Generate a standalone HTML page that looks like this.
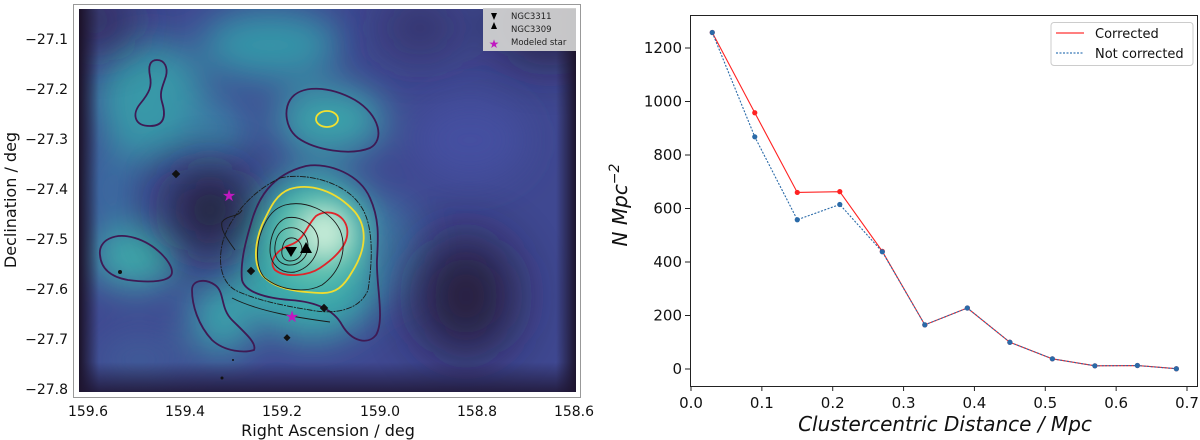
<!DOCTYPE html>
<html><head><meta charset="utf-8"><style>
body{margin:0;background:#fff;width:1200px;height:440px;overflow:hidden;font-family:"DejaVu Sans","Liberation Sans",sans-serif}
svg{position:absolute;left:0;top:0}
</style></head><body>
<svg width="1200" height="440" viewBox="0 0 1200 440">
<defs>
<filter id="b1" x="-50%" y="-50%" width="200%" height="200%"><feGaussianBlur stdDeviation="18"/></filter>
<filter id="b3" x="-80%" y="-80%" width="260%" height="260%"><feGaussianBlur stdDeviation="26"/></filter>
<filter id="b2" x="-50%" y="-50%" width="200%" height="200%"><feGaussianBlur stdDeviation="12"/></filter>
<clipPath id="clipL"><rect x="79" y="9" width="497" height="383"/></clipPath>
<linearGradient id="edgeL" x1="0" x2="1"><stop offset="0" stop-color="#1a1024" stop-opacity="0.95"/><stop offset="1" stop-color="#1a1024" stop-opacity="0"/></linearGradient>
<linearGradient id="edgeR" x1="1" x2="0"><stop offset="0" stop-color="#1a1024" stop-opacity="0.9"/><stop offset="1" stop-color="#1a1024" stop-opacity="0"/></linearGradient>
<linearGradient id="edgeB" x1="0" y1="1" x2="0" y2="0"><stop offset="0" stop-color="#1e1430" stop-opacity="0.8"/><stop offset="1" stop-color="#1e1430" stop-opacity="0"/></linearGradient>
</defs>
<g>
<rect x="73.5" y="4.5" width="507" height="393" fill="#fff" stroke="#999" stroke-width="1"/>
<g clip-path="url(#clipL)">
<rect x="79" y="9" width="497" height="383" fill="#3f4891"/>
<g filter="url(#b1)">
<ellipse cx="270" cy="45" rx="70" ry="35" fill="#3595a8"/>
<ellipse cx="150" cy="100" rx="55" ry="60" fill="#3898a8"/>
<ellipse cx="215" cy="130" rx="35" ry="30" fill="#3a7ea6"/>
<ellipse cx="330" cy="120" rx="55" ry="35" fill="#3aa3aa"/>
<ellipse cx="135" cy="258" rx="45" ry="30" fill="#3cabaa"/>
<ellipse cx="222" cy="318" rx="32" ry="38" fill="#3aa0aa"/>
<ellipse cx="312" cy="255" rx="75" ry="85" fill="#3aa8aa"/>
<ellipse cx="110" cy="190" rx="30" ry="45" fill="#3b6aa0"/>
<ellipse cx="470" cy="140" rx="55" ry="40" fill="#4550a0"/>
<ellipse cx="140" cy="360" rx="45" ry="30" fill="#3f5a98"/>
<ellipse cx="390" cy="250" rx="30" ry="50" fill="#3d70a0"/>
</g>
<g filter="url(#b3)" opacity="0.85">
<ellipse cx="210" cy="210" rx="40" ry="42" fill="#1e1428"/>
<ellipse cx="466" cy="296" rx="50" ry="60" fill="#22162e"/>
<ellipse cx="550" cy="25" rx="55" ry="35" fill="#22162e"/>
<ellipse cx="420" cy="28" rx="40" ry="22" fill="#2f2650"/>
<ellipse cx="95" cy="20" rx="40" ry="25" fill="#2a1d3c"/>
</g>
<rect x="79" y="9" width="20" height="383" fill="url(#edgeL)"/>
<rect x="556" y="9" width="20" height="383" fill="url(#edgeR)"/>
<rect x="79" y="362" width="497" height="30" fill="url(#edgeB)"/>
<g filter="url(#b2)">
<ellipse cx="318" cy="240" rx="48" ry="48" fill="#5cc0ae"/>
<ellipse cx="324" cy="233" rx="24" ry="24" fill="#c6ecd8"/>
</g>
</g>
<g fill="none" stroke-width="1.8">
<path d="M157 60 C165 60 168 68 166 76 C163 86 159 92 162 102 C166 115 165 126 150 126 C134 126 132 114 140 104 C150 92 152 86 150 76 C148 66 150 60 157 60Z" stroke="#3e1a54"/>
<path d="M290 100 C300 84 330 86 355 100 C380 115 385 140 370 148 C350 156 315 150 298 138 C285 128 284 110 290 100Z" stroke="#3e1a54"/>
<ellipse cx="327" cy="119" rx="11" ry="8" stroke="#f2e030"/>
<path d="M100 255 C98 240 115 232 135 238 C155 244 172 262 172 272 C172 282 150 283 128 280 C110 277 101 268 100 255Z" stroke="#3e1a54"/>
<path d="M192 290 C192 280 205 278 215 285 C225 292 220 308 232 320 C245 333 257 343 254 350 C245 353 225 352 212 340 C198 325 192 305 192 290Z" stroke="#3e1a54"/>
<path d="M306 166 C330 162 360 175 370 198 C380 220 378 240 377 260 C376 285 385 320 376 335 C368 345 352 342 342 325 C335 312 320 302 290 300 C265 298 245 292 242 280 C240 262 246 240 252 220 C258 200 270 175 306 166Z" stroke="#3e1a54"/>
<path d="M290 189 C310 183 335 190 355 212 C368 228 366 250 352 272 C344 286 336 294 320 293 C300 292 275 290 262 275 C252 262 256 240 262 225 C270 208 276 194 290 189Z" stroke="#f0dc30"/>
<path d="M316 216 C328 208 344 214 347 228 C350 244 335 258 320 268 C308 276 285 278 275 270 C268 262 276 250 290 245 C305 240 306 226 316 216Z" stroke="#e0242a"/>
</g>
<g fill="none" stroke="#1a1a1a" stroke-width="0.9">
<path d="M280 178 C305 172 345 182 360 205 C375 225 372 265 368 290 C360 310 335 315 310 310 C285 306 255 300 235 290 C222 282 218 265 222 245 C226 225 245 195 280 178Z" stroke-dasharray="6,1,2,1"/>
<path d="M235 250 C228 240 220 230 222 222 C228 214 238 218 242 210 M232 298 C260 312 300 318 330 322"/>
<path d="M285 205 C305 200 330 210 340 230 C348 250 340 272 322 285 C305 294 280 290 265 278 C255 268 256 245 262 230 C268 215 275 208 285 205Z"/>
<path d="M286 218 C300 215 315 224 318 238 C320 254 310 268 295 272 C280 274 270 264 270 250 C270 236 276 222 286 218Z"/>
<path d="M288 228 C298 226 308 234 308 246 C308 258 298 266 288 265 C278 264 274 256 275 246 C276 236 280 230 288 228Z"/>
<path d="M290 238 C297 237 302 243 302 250 C302 257 296 261 290 261 C284 261 281 256 282 250 C283 243 285 239 290 238Z"/>
</g>
<g fill="#111">
<rect x="173" y="171" width="6" height="6" transform="rotate(45 176 174)"/>
<rect x="248" y="268" width="6" height="6" transform="rotate(45 251 271)"/>
<rect x="321" y="305" width="6" height="6" transform="rotate(45 324 308)"/>
<rect x="285" y="335" width="5" height="5" transform="rotate(45 287 337)"/>
<circle cx="120" cy="272" r="2"/><circle cx="222" cy="378" r="1.5"/><circle cx="233" cy="360" r="1"/>
</g>
<path d="M291 257 L285 247 L297 247Z" fill="#000"/>
<path d="M306 242 L300 253 L312 253Z" fill="#000"/>
<text x="229" y="201" font-size="16" fill="#c018c0" text-anchor="middle">★</text>
<text x="292" y="322" font-size="16" fill="#c018c0" text-anchor="middle">★</text>
<g>
<rect x="483" y="8" width="93" height="43" fill="#d0d0d0" opacity="0.95"/>
<path d="M497 13 L491 13 L494 20Z M491 29 L497 29 L494 22Z" fill="#000"/>
<text x="494" y="48" font-size="12" fill="#c018c0" text-anchor="middle">★</text>
<g font-size="8.5" fill="#222"><text x="511" y="19">NGC3311</text><text x="511" y="32">NGC3309</text><text x="511" y="45">Modeled star</text></g>
</g>
<g font-size="14" fill="#111" text-anchor="end">
<text x="68" y="44">−27.1</text><text x="68" y="94">−27.2</text><text x="68" y="144">−27.3</text><text x="68" y="194">−27.4</text><text x="68" y="244">−27.5</text><text x="68" y="294">−27.6</text><text x="68" y="344">−27.7</text><text x="68" y="394">−27.8</text>
</g>
<g font-size="14" fill="#111" text-anchor="middle">
<text x="88" y="416">159.6</text><text x="185" y="416">159.4</text><text x="282" y="416">159.2</text><text x="380" y="416">159.0</text><text x="477" y="416">158.8</text><text x="574" y="416">158.6</text>
</g>
<text x="328" y="436" font-size="16" text-anchor="middle" fill="#111">Right Ascension / deg</text>
<text transform="translate(16 200) rotate(-90)" font-size="16" text-anchor="middle" fill="#111">Declination / deg</text>
</g>
<g id="chart">
<rect x="690.5" y="15.5" width="507" height="371" fill="none" stroke="#222"/>
<text x="945" y="431" font-size="20" font-style="italic" text-anchor="middle" fill="#111">Clustercentric Distance / Mpc</text>
<text transform="translate(627 205) rotate(-90)" font-size="20" font-style="italic" text-anchor="middle" fill="#111">N Mpc<tspan dy="-8" font-size="14">−2</tspan></text>
<g>
<rect x="1051" y="22.5" width="142" height="43" rx="3" fill="#fff" stroke="#ccc"/>
<line x1="1056" y1="33" x2="1084" y2="33" stroke="#f33" stroke-width="1.3"/>
<line x1="1056" y1="53" x2="1084" y2="53" stroke="#3a7ab8" stroke-width="1.3" stroke-dasharray="2,1.5"/>
<text x="1095" y="38" font-size="13" fill="#111">Corrected</text>
<text x="1095" y="58" font-size="13" fill="#111">Not corrected</text>
</g>
</g>
</svg>
<script>
const distances=[0.03,0.09,0.15,0.21,0.27,0.33,0.39,0.45,0.51,0.57,0.63,0.685];
const corrected=[1258,958,660,663,440,165,228,100,38,12,13,1];
const notCorrected=[1258,868,558,615,438,165,228,100,38,12,13,1];
const xTicks=["0.0","0.1","0.2","0.3","0.4","0.5","0.6","0.7"];
const yTicks=[0,200,400,600,800,1000,1200];
const NS='http://www.w3.org/2000/svg';
const g=document.getElementById('chart');
const X=v=>691+v/0.7*496, Y=v=>369-v/1200*321;
function mk(t,a){const e=document.createElementNS(NS,t);for(const k in a)e.setAttribute(k,a[k]);g.appendChild(e);return e;}
xTicks.forEach(t=>{const x=X(+t);
 const l=mk('line',{x1:x,x2:x,y1:386,y2:391,stroke:'#222'});
 
 
 const s=mk('text',{x:x,y:408,'font-size':15,'text-anchor':'middle',fill:'#111'});s.textContent=t;
 
 });
yTicks.forEach(t=>{const y=Y(t);
 const l=mk('line',{x1:685,x2:690,y1:y,y2:y,stroke:'#222'});
 
 
 const s=mk('text',{x:682,y:y+5,'font-size':15,'text-anchor':'end',fill:'#111'});s.textContent=t;
 
 });
function series(vals,color,dash,name){
 const p=mk('polyline',{points:vals.map((v,i)=>X(distances[i])+','+Y(v)).join(' '),fill:'none',stroke:color,'stroke-width':1.1,'stroke-dasharray':dash});
 
 
 vals.forEach((v,i)=>{const c=mk('circle',{cx:X(distances[i]),cy:Y(v),r:2.6,fill:color});
 
 });
}
series(corrected,'#f22','none','corrected');
series(notCorrected,'#2a6aa8','2,1.5','not-corrected');
</script>
</body></html>
